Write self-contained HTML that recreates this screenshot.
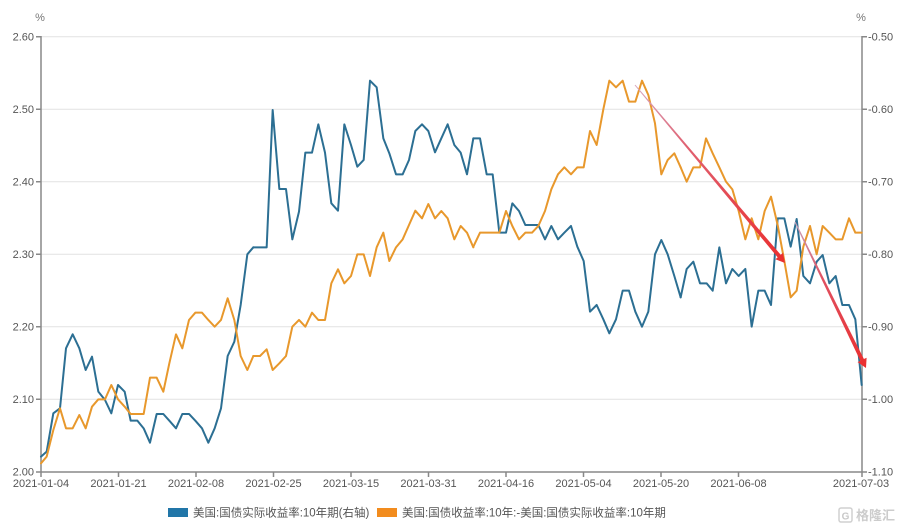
<!DOCTYPE html>
<html><head><meta charset="utf-8">
<style>
html,body{margin:0;padding:0;background:#fff;}
svg{display:block;}
text{font-family:"Liberation Sans","Noto Sans CJK SC",sans-serif;}
</style></head>
<body>
<svg width="900" height="530" viewBox="0 0 900 530" xmlns="http://www.w3.org/2000/svg">
<rect width="900" height="530" fill="#fff"/>
<defs>
<linearGradient id="g1" gradientUnits="userSpaceOnUse" x1="635" y1="85" x2="785" y2="263">
<stop offset="0" stop-color="#d8a8c0"/><stop offset="0.35" stop-color="#e06070"/><stop offset="1" stop-color="#ea2e2e"/>
</linearGradient>
<linearGradient id="g2" gradientUnits="userSpaceOnUse" x1="795" y1="222" x2="866" y2="368">
<stop offset="0" stop-color="#c8a0b8"/><stop offset="0.4" stop-color="#e05060"/><stop offset="1" stop-color="#ea2e2e"/>
</linearGradient>
</defs>
<!-- gridlines -->
<g stroke="#e6e6e6" stroke-width="1.2">
<line x1="41" y1="36.7" x2="862" y2="36.7"/>
<line x1="41" y1="109.3" x2="862" y2="109.3"/>
<line x1="41" y1="181.7" x2="862" y2="181.7"/>
<line x1="41" y1="254.3" x2="862" y2="254.3"/>
<line x1="41" y1="326.7" x2="862" y2="326.7"/>
<line x1="41" y1="399.3" x2="862" y2="399.3"/>
</g>
<!-- axes -->
<g stroke="#888" stroke-width="1.5" fill="none">
<line x1="41" y1="36" x2="41" y2="472"/>
<line x1="862" y1="36" x2="862" y2="472"/>
<line x1="41" y1="472" x2="862" y2="472"/>
<path d="M36 36.7H41M36 109.3H41M36 181.7H41M36 254.3H41M36 326.7H41M36 399.3H41M36 472H41"/>
<path d="M862 36.7H867M862 109.3H867M862 181.7H867M862 254.3H867M862 326.7H867M862 399.3H867M862 472H867"/>
<path d="M41 472V477M118.5 472V477M196 472V477M273.5 472V477M351 472V477M428.5 472V477M506 472V477M583.5 472V477M661 472V477M738.5 472V477M862 472V477"/>
</g>
<!-- y labels -->
<g font-size="11" fill="#555" text-anchor="end">
<text x="34" y="40.5">2.60</text>
<text x="34" y="113">2.50</text>
<text x="34" y="185.5">2.40</text>
<text x="34" y="258">2.30</text>
<text x="34" y="330.5">2.20</text>
<text x="34" y="403">2.10</text>
<text x="34" y="475.5">2.00</text>
</g>
<g font-size="11" fill="#555">
<text x="868" y="40.5">-0.50</text>
<text x="868" y="113">-0.60</text>
<text x="868" y="185.5">-0.70</text>
<text x="868" y="258">-0.80</text>
<text x="868" y="330.5">-0.90</text>
<text x="868" y="403">-1.00</text>
<text x="868" y="475.5">-1.10</text>
</g>
<text x="40" y="21" font-size="11" fill="#777" text-anchor="middle">%</text>
<text x="861" y="21" font-size="11" fill="#777" text-anchor="middle">%</text>
<!-- x labels -->
<g font-size="11" fill="#555" text-anchor="middle">
<text x="41" y="487">2021-01-04</text>
<text x="118.5" y="487">2021-01-21</text>
<text x="196" y="487">2021-02-08</text>
<text x="273.5" y="487">2021-02-25</text>
<text x="351" y="487">2021-03-15</text>
<text x="428.5" y="487">2021-03-31</text>
<text x="506" y="487">2021-04-16</text>
<text x="583.5" y="487">2021-05-04</text>
<text x="661" y="487">2021-05-20</text>
<text x="738.5" y="487">2021-06-08</text>
<text x="861" y="487">2021-07-03</text>
</g>
<!-- blue series -->
<g fill="none" stroke="#2c6f93" stroke-width="6" stroke-linejoin="round" stroke-linecap="round">
<polyline transform="translate(30,30) scale(0.33333)" points="33,1280 50,1265 70,1150 90,1135 108,955 128,913 148,955 167,1020 186,980 205,1085 225,1110 244,1150 264,1065 284,1085 302,1172 322,1172 341,1195 360,1238 380,1152 400,1152 418,1172 438,1195 457,1152 477,1152 496,1172 516,1195 535,1238 554,1195 573,1135 593,978 613,935 632,825 652,673 670,652"/>
<polyline transform="translate(250,30) scale(0.33333)" points="10,652 50,652 68,240 88,477 108,477 127,628 147,545 166,368 186,368 205,283 225,368 244,520 264,542 283,283 303,345 322,410 341,390 360,152 380,172 400,325 418,370 438,433 458,433 477,390 496,303 516,283 535,303 555,367 574,325 593,283 613,345 632,368 651,433 670,325"/>
<polyline transform="translate(470,30) scale(0.33333)" points="10,325 30,325 50,433 68,433 88,608 108,608 127,520 147,543 166,585 186,585 205,585 225,628 244,588 264,628 283,608 303,588 322,650 341,693 360,845 380,825 400,868 418,910 438,868 458,782 477,782 496,845 516,890 535,845 555,673 574,630 593,673 613,738 632,802"/>
<polyline transform="translate(680,30) scale(0.33333)" points="2,802 20,717 40,695 60,760 80,760 98,782 118,652 138,760 157,717 176,738 196,717 215,890 235,782 254,782 273,825 293,565 313,565 332,650 350,567 370,738 390,760 410,695 428,675 448,760 467,738 487,825 507,825 526,868 545,1065"/>
</g>
<!-- orange series -->
<g fill="none" stroke="#e8982c" stroke-width="6" stroke-linejoin="round" stroke-linecap="round">
<polyline transform="translate(30,30) scale(0.33333)" points="33,1300 50,1280 70,1200 90,1135 108,1195 128,1195 148,1155 167,1195 186,1130 205,1108 225,1108 244,1065 264,1108 284,1130 302,1152 322,1152 341,1152 360,1043 380,1043 400,1085 418,1000 438,913 457,955 477,870 496,848 516,848 535,870 554,890 573,870 593,805 613,870 632,978 652,1020 670,978"/>
<polyline transform="translate(250,30) scale(0.33333)" points="10,978 30,978 50,958 68,1020 88,1000 108,978 127,890 147,870 166,890 186,848 205,870 225,870 244,760 264,718 283,760 303,738 322,673 341,673 360,738 380,652 400,608 418,693 438,652 458,628 477,585 496,542 516,565 535,522 555,565 574,543 593,565 613,628 632,588 651,608 670,652"/>
<polyline transform="translate(470,30) scale(0.33333)" points="10,650 30,608 50,608 68,608 88,608 108,543 127,588 147,628 166,608 186,608 205,588 225,543 244,478 264,433 283,412 303,433 322,412 341,412 360,303 380,345 400,238 418,152 438,172 458,152 477,215 496,215 516,152 535,195 555,280 574,433 593,390 613,370 632,412"/>
<polyline transform="translate(680,30) scale(0.33333)" points="2,412 20,455 40,412 60,412 78,325 98,370 118,412 138,455 157,478 176,543 196,628 215,565 235,628 254,543 273,500 293,585 313,693 332,802 350,782 370,650 390,588 410,673 428,588 448,608 467,628 487,628 507,565 526,608 545,608"/>
</g>
<!-- red arrows -->
<polygon fill="url(#g1)" points="635.4,84.7 780.7,254.8 783.0,252.9 785,263 775.4,259.3 777.7,257.4 634.6,85.3"/>
<polygon fill="url(#g2)" points="795.5,221.7 863.9,359.0 866.6,357.7 866,368 857.6,362.1 860.3,360.8 794.5,222.3"/>
<!-- legend -->
<rect x="168" y="508" width="20" height="9" fill="#2176a8"/>
<text x="193" y="516.5" font-size="11.5" fill="#555">美国:国债实际收益率:10年期(右轴)</text>
<rect x="377" y="508" width="20" height="9" fill="#f28c1e"/>
<text x="402" y="516.5" font-size="11.5" fill="#555">美国:国债收益率:10年:-美国:国债实际收益率:10年期</text>
<!-- watermark -->
<rect x="839" y="508" width="13" height="14" rx="2" fill="none" stroke="#d0d0d0" stroke-width="1.5"/>
<text x="845.5" y="519.5" font-size="10" fill="#c8c8c8" text-anchor="middle" font-weight="bold">G</text>
<text x="856" y="520" font-size="13" fill="#cccccc" font-weight="bold">格隆汇</text>
</svg>
</body></html>
